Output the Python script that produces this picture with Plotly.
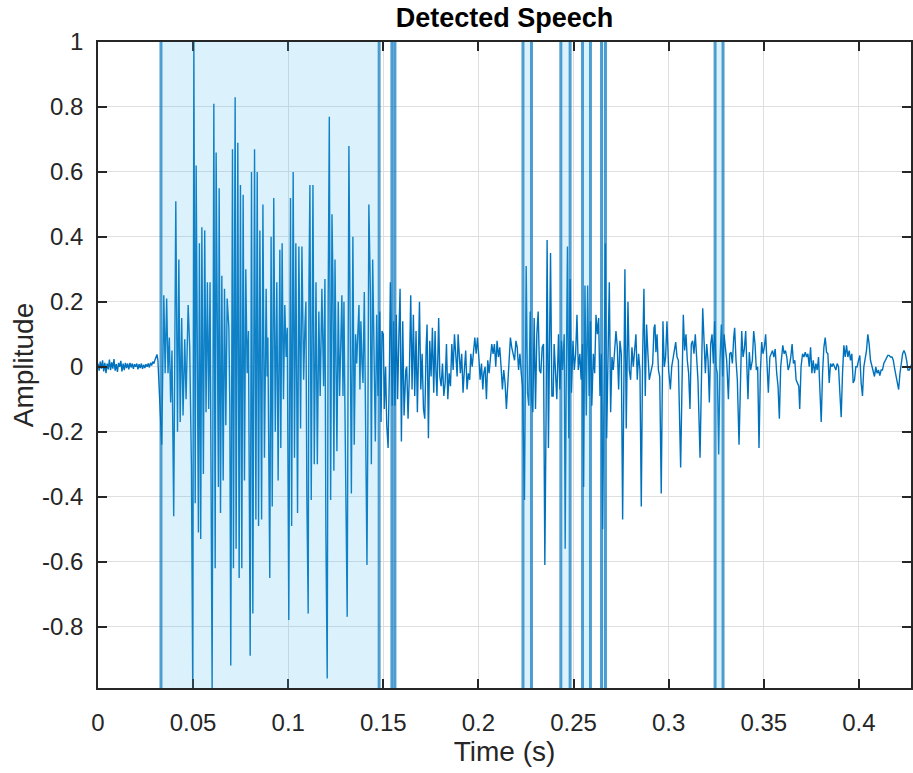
import plotly.graph_objects as go

# waveform vertices: time in ms, amplitude
lead_t = [0.0, 0.6, 1.2, 1.8, 2.4, 3.0, 3.6, 4.2, 4.8, 5.4,
          6.0, 6.6, 7.2, 7.8, 8.4, 9.0, 9.6, 10.2, 10.8, 11.4,
          12.0, 12.6, 13.2, 13.8, 14.4, 15.0, 15.6, 16.2, 16.8, 17.4,
          18.0, 18.6, 19.2, 19.8, 20.4, 21.0, 21.6, 22.2, 22.8, 23.4,
          24.0, 24.6, 25.2, 25.8, 26.4, 27.0, 27.6, 28.2, 28.8, 29.4,
          30.0, 30.6, 31.0, 31.5]
lead_a = [0.010, -0.012, 0.016, -0.006, 0.020, -0.014, 0.012, -0.020, 0.010, -0.008,
          0.022, -0.010, 0.014, -0.006, 0.024, -0.012, 0.008, -0.016, 0.012, 0.000,
          0.018, -0.014, 0.010, -0.010, 0.012, -0.004, 0.010, -0.008, 0.012, -0.002,
          0.010, -0.006, 0.008, 0.000, 0.010, -0.008, 0.008, -0.004, 0.010, -0.006,
          0.006, -0.004, 0.008, 0.000, 0.010, -0.002, 0.012, 0.004, 0.016, 0.010,
          0.022, 0.030, 0.038, 0.020]

burst1_t = [32.1, 33.5, 34.6, 35.3, 36.1, 36.8, 37.5, 38.2, 38.9, 39.8,
            40.9, 41.8, 42.5, 43.2, 44.0, 44.7, 45.6, 46.3, 47.4, 48.2,
            49.1, 49.8, 50.4, 51.1, 51.6, 52.3, 52.8, 53.3, 54.0, 54.6,
            55.4, 56.1, 56.8, 57.5, 58.2, 58.9, 60.0, 60.9, 61.6, 62.1,
            62.8, 63.3, 63.7, 64.4, 65.1, 65.8, 66.5, 67.2, 67.9, 68.8,
            69.3, 69.8, 70.7, 71.2, 72.1, 72.6, 73.5, 74.2, 74.9, 75.6,
            76.3, 77.0, 77.7, 78.4, 79.1, 80.0, 80.7, 81.4, 82.3, 83.0,
            83.7, 84.4, 85.1, 86.0, 86.7, 87.5]
burst1_a = [-0.05, -0.24, 0.22, -0.02, 0.21, -0.02, 0.09, -0.11, 0.05, -0.46,
            0.51, -0.20, 0.33, -0.17, 0.15, -0.15, 0.085, -0.10, 0.19, 0.06,
            -0.30, -0.985, 1.0, -0.42, 0.62, -0.16, -0.51, 0.38, -0.53, 0.43,
            -0.33, 0.42, -0.14, 0.26, -0.13, 0.26, -0.99, 0.81, -0.62, 0.66,
            -0.22, -0.37, 0.55, -0.45, 0.28, -0.35, 0.24, -0.18, 0.21, 0.12,
            -0.12, -0.92, 0.67, -0.62, 0.83, -0.56, 0.69, -0.65, 0.56, -0.62,
            0.53, -0.35, 0.30, -0.02, 0.11, -0.89, 0.60, -0.76, 0.67, -0.47,
            0.60, -0.49, 0.42, -0.47, 0.50, -0.28]

burst2_t = [88.4, 88.9, 89.3, 89.8, 90.3, 91.0, 91.6, 92.4, 93.2, 94.0,
            94.7, 95.6, 96.1, 96.8, 97.5, 98.2, 98.9, 99.5, 100.3, 101.2,
            101.8, 102.6, 103.3, 104.0, 104.9, 105.6, 106.5, 107.2, 108.1, 108.8,
            109.3, 109.8, 110.5, 110.9, 111.4, 112.1, 113.0, 113.7, 114.6, 115.3,
            116.1, 116.8, 117.7, 118.6, 119.3, 119.8, 120.5, 121.0, 121.6, 122.3,
            123.0, 123.5, 124.0, 124.6, 125.3, 125.6, 126.3, 127.0, 127.7, 128.2,
            128.8, 129.3, 129.8, 130.5, 131.0, 131.9, 132.6, 133.2, 134.0, 134.7,
            135.4, 136.0, 136.5, 137.2, 137.7, 138.2, 138.8, 139.3, 140.0, 140.7,
            141.4, 141.9, 142.4, 143.2, 143.7, 144.4, 145.1, 145.8, 146.5, 147.2,
            148.1]
burst2_a = [0.24, -0.03, 0.09, -0.33, -0.65, 0.40, -0.43, 0.52, -0.20, 0.26,
            -0.35, 0.36, -0.25, 0.38, -0.10, 0.19, 0.03, 0.12, -0.78, 0.52,
            -0.49, 0.60, -0.28, 0.38, -0.45, 0.37, -0.19, 0.37, -0.04, 0.13,
            0.20, -0.40, -0.76, 0.25, 0.56, -0.41, 0.56, -0.30, 0.26, -0.30,
            0.17, -0.09, 0.24, -0.06, 0.27, -0.51, -0.96, 0.21, 0.77, -0.41,
            0.47, 0.27, -0.32, 0.33, -0.11, -0.26, 0.20, -0.09, 0.09, 0.22,
            -0.09, 0.20, -0.12, -0.44, -0.77, 0.68, -0.12, -0.39, 0.40, -0.24,
            0.10, 0.01, 0.09, 0.19, -0.07, 0.14, 0.01, -0.05, 0.23, -0.35,
            -0.61, -0.16, 0.50, 0.23, -0.30, 0.33, 0.00, -0.23, 0.16, -0.09,
            0.17]

mid_t = [148.8, 149.3, 150.0, 150.5, 151.2, 151.8, 152.5, 153.2, 153.7, 154.2,
         154.7, 155.4, 156.1, 156.8, 157.5, 158.2, 158.8, 159.5, 160.2, 160.9,
         161.8, 162.3, 163.0, 163.7, 164.4, 165.1, 165.8, 166.5, 167.2, 167.9,
         169.0, 169.7, 170.4, 171.1, 171.8, 172.5, 173.0, 173.7, 174.4, 175.1,
         175.8, 176.5, 177.2, 177.7, 178.2, 179.1, 179.7, 180.4, 181.1, 181.8,
         182.5, 183.2, 183.9, 184.6, 185.3, 186.0, 186.7, 187.4, 188.1, 188.8,
         189.3, 190.0, 190.5, 191.2, 191.9, 192.6, 193.3, 194.0, 194.7, 195.4,
         196.0, 196.7, 197.4, 198.1, 198.8, 199.5, 200.2, 200.9, 201.6, 202.3,
         202.8, 203.5, 204.2, 204.9, 205.6, 206.3, 207.0, 207.7, 208.4, 209.1,
         209.8, 210.5, 211.2, 211.9, 212.6, 213.3, 214.0, 214.7, 215.4, 216.1,
         216.8, 217.5, 218.2, 219.0, 219.7, 220.4, 221.1, 221.8, 222.5, 223.2]
mid_a = [-0.17, 0.11, 0.10, -0.13, 0.00, -0.18, -0.25, -0.01, 0.26, 0.09,
         -0.12, 0.14, -0.12, 0.16, -0.10, 0.10, 0.24, -0.23, 0.14, -0.15,
         -0.01, 0.00, -0.16, -0.02, 0.22, -0.07, 0.16, -0.09, 0.11, -0.14,
         0.20, -0.07, 0.04, -0.13, -0.16, 0.06, 0.13, -0.22, 0.08, -0.03,
         0.12, -0.08, 0.11, -0.02, -0.09, 0.15, -0.03, -0.06, 0.01, -0.09,
         -0.05, 0.07, -0.10, -0.02, -0.06, 0.07, -0.01, 0.10, 0.01, -0.03,
         0.10, 0.01, -0.02, 0.04, -0.08, -0.01, 0.05, -0.07, -0.02, -0.04,
         0.04, 0.00, 0.06, 0.09, 0.04, 0.09, 0.03, -0.04, 0.01, -0.07,
         -0.02, 0.00, -0.10, 0.02, -0.02, 0.02, 0.07, 0.04, 0.07, 0.00,
         0.08, 0.03, 0.06, 0.00, -0.07, -0.01, -0.05, -0.13, -0.04, 0.03,
         0.09, 0.06, 0.04, 0.02, 0.08, 0.06, -0.01, 0.04, -0.02, -0.06]

late_t = [224.2, 225.1, 225.8, 226.5, 227.2, 227.9, 228.6, 229.3, 230.0, 230.7,
          231.4, 232.1, 232.8, 233.5, 234.2, 234.9, 235.6, 236.1, 236.8, 237.9,
          238.6, 239.3, 239.8, 240.5, 241.2, 242.1, 242.8, 243.7, 244.2, 245.1,
          245.6, 246.1, 246.8, 247.5, 248.2, 248.9, 249.7, 250.4, 251.1, 251.8,
          252.5, 253.3, 254.0, 254.7, 255.3, 256.0, 256.7, 257.4, 258.2, 258.9,
          259.6, 260.4, 261.1, 261.8, 262.5, 263.2, 263.9, 264.6, 265.3, 266.0,
          266.7, 267.4, 268.1, 268.8, 269.5, 270.2, 270.9, 271.6, 272.3, 273.0,
          273.7, 274.4, 275.1, 275.8, 276.5, 277.0, 277.7, 278.6, 279.3, 280.0,
          280.7, 281.4, 282.1, 282.8, 283.5, 284.2, 284.9, 285.6, 286.3, 287.0,
          287.7, 288.4, 289.1, 289.8, 290.5]
late_a = [-0.41, 0.31, -0.08, -0.12, 0.17, -0.10, -0.14, 0.15, -0.13, 0.10,
          0.17, -0.01, -0.02, 0.06, 0.07, -0.61, -0.12, 0.39, -0.25, 0.35,
          -0.09, -0.09, 0.07, 0.00, -0.10, 0.10, -0.07, 0.08, -0.01, 0.10,
          -0.56, -0.08, 0.37, -0.22, 0.27, -0.08, 0.08, -0.01, 0.04, 0.16,
          -0.01, 0.04, -0.04, 0.07, -0.37, 0.25, -0.15, 0.25, -0.09, 0.14,
          -0.12, 0.04, -0.02, 0.16, 0.10, 0.15, -0.09, 0.04, -0.50, -0.08,
          0.38, -0.22, 0.04, 0.26, -0.14, 0.03, -0.01, 0.04, 0.11, 0.06,
          -0.07, 0.08, 0.04, -0.47, 0.04, 0.30, -0.19, 0.20, -0.01, -0.04,
          0.06, 0.00, 0.05, 0.10, -0.04, 0.04, -0.01, -0.43, 0.03, 0.24,
          -0.09, 0.13, 0.04, -0.04, -0.02]

tail1_t = [291.6, 292.3, 292.8, 293.3, 293.9, 294.6, 295.3, 296.1, 297.0, 297.7,
           298.4, 299.1, 300.0, 300.9, 301.6, 302.3, 303.0, 303.7, 304.4, 305.1,
           305.6, 306.3, 307.0, 307.7, 308.4, 309.1, 309.8, 310.5, 311.2, 311.9,
           312.6, 313.3, 314.0, 314.7, 315.4, 316.5, 317.2, 317.9, 318.6, 319.3,
           320.0, 320.7, 321.4, 322.1, 322.8, 323.5, 324.2, 324.9, 325.6, 326.3,
           327.0, 327.7, 328.4, 329.1, 329.8, 330.5, 331.4, 332.1, 332.8, 333.5,
           334.2, 334.7, 335.4, 336.1, 337.0, 337.7, 338.4, 339.1, 339.8, 340.5,
           341.2, 341.7, 342.4, 343.1, 344.0, 344.7, 345.4, 346.1, 346.8, 347.5,
           348.2, 348.9, 349.6, 350.3, 351.0, 351.7, 352.4, 353.2, 353.9, 354.6,
           355.3, 356.0, 356.8, 357.5, 358.2, 358.9]
tail1_a = [0.01, 0.12, 0.13, 0.045, 0.10, -0.01, -0.03, -0.39, 0.14, 0.00,
           0.03, 0.14, -0.01, -0.07, 0.00, 0.025, 0.06, 0.076, 0.03, 0.02,
           -0.12, -0.31, -0.06, 0.16, 0.05, 0.10, 0.02, -0.02, -0.13, 0.07,
           0.08, 0.04, 0.10, 0.02, -0.04, -0.28, -0.02, 0.18, 0.08, -0.02,
           0.07, 0.02, -0.11, 0.07, 0.10, 0.01, 0.14, 0.00, -0.02, -0.27,
           0.02, 0.13, -0.03, 0.10, 0.06, 0.02, -0.10, 0.04, 0.045, 0.01,
           0.09, 0.12, 0.02, -0.04, -0.24, -0.02, 0.11, 0.03, 0.055, 0.11,
           -0.01, -0.10, 0.045, -0.01, 0.02, 0.11, 0.07, -0.01, 0.00, -0.25,
           -0.02, 0.076, 0.04, 0.06, 0.10, 0.00, -0.08, 0.03, 0.04, 0.05,
           0.03, 0.055, -0.02, -0.06, -0.16, 0.00]

tail2_t = [360.0, 360.7, 361.4, 362.1, 362.8, 363.5, 364.2, 364.9, 365.6, 366.3,
           367.0, 367.7, 368.4, 368.9, 369.6, 370.4, 371.1, 371.8, 372.5, 373.2,
           373.9, 374.6, 375.3, 376.0, 376.7, 377.4, 378.1, 378.8, 379.5, 380.2,
           380.9, 381.6, 382.3, 383.0, 383.7, 384.4, 385.1, 385.8, 386.5, 387.2,
           387.9, 388.6, 389.3, 390.0, 390.7, 391.4, 392.1, 392.8, 393.5, 394.2,
           394.9, 395.6, 396.3, 397.0, 397.7, 398.4, 399.1, 399.8, 400.5, 401.2,
           401.9, 402.6, 403.3, 404.0, 404.7, 405.4, 406.1, 406.8, 407.5, 408.2,
           408.9, 409.6, 410.3, 411.0, 411.7, 412.4, 413.1, 413.8, 414.5, 415.2,
           415.9, 416.6, 417.4, 418.1, 418.8, 419.5, 420.2, 420.9, 421.6, 422.3,
           423.0, 423.7, 424.4, 425.1, 425.8, 426.5, 427.2, 427.9, 429.0]
tail2_a = [0.066, 0.04, 0.05, 0.03, -0.01, 0.004, 0.03, 0.07, 0.01, 0.02,
           -0.04, -0.05, -0.06, -0.13, 0.00, 0.04, 0.03, 0.045, 0.03, 0.04,
           0.00, 0.06, -0.02, 0.02, -0.02, 0.01, -0.01, 0.03, -0.06, -0.17,
           -0.02, 0.06, 0.09, 0.045, 0.04, -0.05, 0.01, 0.00, 0.01, 0.00,
           -0.01, 0.01, 0.00, -0.08, -0.155, -0.02, 0.066, 0.03, 0.066, 0.03,
           0.05, 0.02, 0.04, -0.05, -0.04, 0.00, 0.00, 0.02, 0.035, -0.05,
           -0.09, 0.00, 0.025, 0.05, 0.10, 0.07, 0.02, 0.00, -0.01, -0.03,
           0.00, -0.02, -0.01, -0.027, -0.01, -0.01, 0.01, 0.02, 0.03, 0.035,
           0.035, 0.03, 0.03, 0.02, -0.006, -0.03, -0.047, -0.07, -0.02, 0.01,
           0.04, 0.05, 0.04, 0.02, -0.01, -0.01, 0.004, 0.01, 0.02]

# detected speech regions (seconds)
speech_start = [0.0331, 0.1545, 0.2234, 0.2433, 0.2547, 0.2647, 0.3244]
speech_end = [0.1478, 0.1561, 0.2279, 0.2482, 0.2589, 0.2668, 0.3286]

x_ticks = [0, 0.05, 0.1, 0.15, 0.2, 0.25, 0.3, 0.35, 0.4]
x_labels = ["0", "0.05", "0.1", "0.15", "0.2", "0.25", "0.3", "0.35", "0.4"]
y_ticks = [-0.8, -0.6, -0.4, -0.2, 0, 0.2, 0.4, 0.6, 0.8, 1]
y_labels = ["-0.8", "-0.6", "-0.4", "-0.2", "0", "0.2", "0.4", "0.6", "0.8", "1"]

segments = [(lead_t, lead_a), (burst1_t, burst1_a), (burst2_t, burst2_a),
            (mid_t, mid_a), (late_t, late_a), (tail1_t, tail1_a),
            (tail2_t, tail2_a)]

time_s = []
amplitude = []
for ts, vals in segments:
    assert len(ts) == len(vals)
    time_s += [t / 1000 for t in ts]
    amplitude += vals

FONT = "Liberation Sans, Arial, Helvetica, sans-serif"
AX = "#262626"

fig = go.Figure()
fig.add_trace(go.Scatter(
    x=time_s, y=amplitude, mode='lines',
    line=dict(color='#0072BD', width=1.4),
    showlegend=False, hoverinfo='skip'
))

for s, e in zip(speech_start, speech_end):
    fig.add_shape(type='rect', xref='x', yref='paper', x0=s, x1=e, y0=0, y1=1,
                  fillcolor='rgba(77,190,238,0.2)', line_width=0, layer='above')
    for xv in (s, e):
        fig.add_shape(type='line', xref='x', yref='paper', x0=xv, x1=xv,
                      y0=0, y1=1, layer='above',
                      line=dict(color='rgba(0,114,189,0.68)', width=3))

axis_common = dict(
    showline=True, linecolor=AX, linewidth=1.5, mirror='ticks',
    ticks='inside', ticklen=9, tickwidth=1.5, tickcolor=AX,
    showgrid=True, gridcolor='#DFDFDF', gridwidth=1, zeroline=False,
    tickfont=dict(family=FONT, size=24, color=AX),
    automargin=False,
)

fig.update_layout(
    width=913, height=773,
    margin=dict(l=98, r=2, t=42, b=85),
    paper_bgcolor='white', plot_bgcolor='white',
    title=dict(text='<b>Detected Speech</b>', x=0.5, xref='paper',
               y=1 - 18 / 773, yref='container', yanchor='middle',
               font=dict(family=FONT, size=27, color='black')),
    xaxis=dict(range=[0, 0.4274], tickvals=x_ticks, ticktext=x_labels,
               ticklabelstandoff=12,
               title=dict(text='Time (s)', standoff=6,
                          font=dict(family=FONT, size=28, color=AX)),
               **axis_common),
    yaxis=dict(range=[-0.989, 1.0], tickvals=y_ticks, ticktext=y_labels,
               ticklabelstandoff=8,
               title=dict(text='Amplitude', standoff=0,
                          font=dict(family=FONT, size=28, color=AX)),
               **axis_common),
)

# page body has a default 8px margin; drop it so the figure sits at 0,0
fig.write_html("out.html", config={'displayModeBar': False},
               post_script="document.body.style.margin='0';")
